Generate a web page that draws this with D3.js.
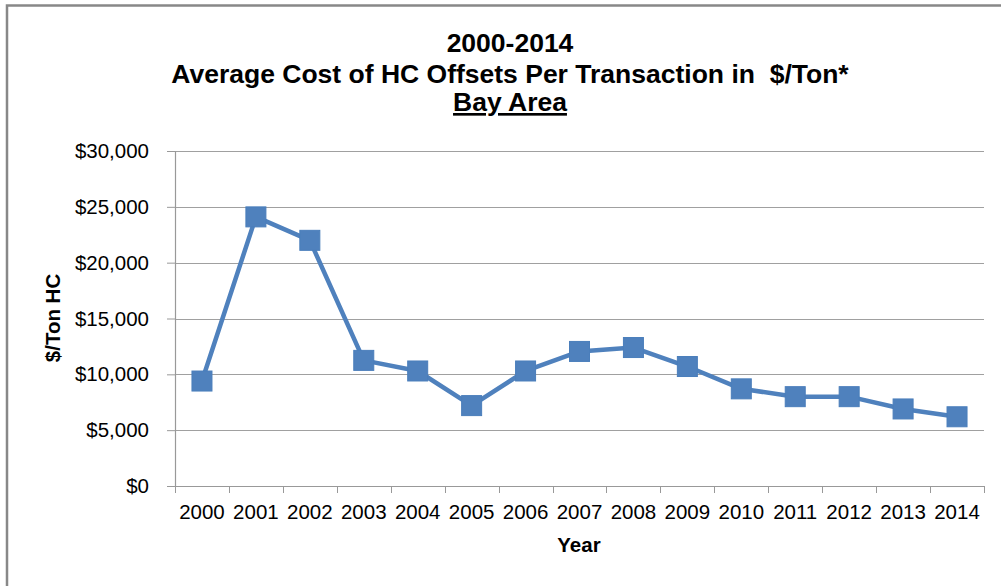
<!DOCTYPE html>
<html lang="en">

<head>
  <title>HC Offsets Bay Area</title>
  <script src="https://cdn.jsdelivr.net/npm/d3@7"></script>
  <style>
    body { margin: 0; background: #fff; }
    text { font-family: Arial, "Liberation Sans", sans-serif; fill: #000; }
  </style>
</head>

<body>
  <script>
    var years = ["2000", "2001", "2002", "2003", "2004", "2005", "2006", "2007",
                 "2008", "2009", "2010", "2011", "2012", "2013", "2014"];
    var costs = [9400, 24100, 22000, 11250, 10300, 7200, 10300, 12050,
                 12400, 10700, 8700, 8000, 8000, 6900, 6200];
    var yTicks = [0, 5000, 10000, 15000, 20000, 25000, 30000];
    var titleLines = ["2000-2014", "Average Cost of HC Offsets Per Transaction in \u00a0$/Ton*", "Bay Area"];

    var w = 1001;
    var h = 586;
    var margin = { top: 151, left: 175, right: 17, bottom: 100 };
    var width = w - margin.left - margin.right;
    var height = h - margin.top - margin.bottom;

    var svg = d3.select("body").append("svg")
                .attr("width", w)
                .attr("height", h);

    // outer frame, runs off the right/bottom edge
    svg.append("rect")
       .attr("x", 7).attr("y", 5.5)
       .attr("width", w + 20).attr("height", h + 20)
       .attr("fill", "none")
       .attr("stroke", "#888")
       .attr("stroke-width", 2.5);

    var title = svg.append("g");
    var baselines = [52, 82.5, 111];
    titleLines.forEach(function(t, i) {
      title.append("text")
           .attr("x", 510).attr("y", baselines[i])
           .attr("text-anchor", "middle")
           .style("font-size", "26.5px")
           .style("font-weight", "bold")
           .style("text-decoration", i == 2 ? "underline" : null)
           .text(t);
    });

    var chart = svg.append("g")
                   .attr("transform", "translate(" + margin.left + "," + margin.top + ")");

    var x = d3.scaleBand().domain(years).range([0, width]);
    var y = d3.scaleLinear().domain([0, 30000]).range([height, 0]);

    // gridlines
    chart.append("g")
         .selectAll("line")
         .data(yTicks.slice(1))
         .enter()
           .append("line")
           .attr("x1", 0).attr("x2", width)
           .attr("y1", function(d) { return Math.round(y(d)) + 0.5; })
           .attr("y2", function(d) { return Math.round(y(d)) + 0.5; })
           .attr("stroke", "#a0a0a0")
           .attr("stroke-width", 1.2);

    var yAxis = d3.axisLeft(y)
                  .tickValues(yTicks)
                  .tickSize(8)
                  .tickPadding(18)
                  .tickFormat(function(d) { return "$" + d3.format(",")(d); });
    var gy = chart.append("g").call(yAxis);
    gy.selectAll("text").style("font-size", "20.5px");

    var xAxis = d3.axisBottom(x)
                  .tickValues([])
                  .tickSize(0);
    var gx = chart.append("g")
                  .attr("transform", "translate(0," + height + ")")
                  .call(xAxis);
    // category boundary ticks
    gx.selectAll(".bound")
      .data(years.concat(["end"]))
      .enter()
        .append("line")
        .attr("x1", function(d, i) { return Math.round(i * x.step()) + 0.5; })
        .attr("x2", function(d, i) { return Math.round(i * x.step()) + 0.5; })
        .attr("y1", 0).attr("y2", 7)
        .attr("stroke", "#999");
    gx.selectAll(".lbl")
      .data(years)
      .enter()
        .append("text")
        .attr("x", function(d) { return x(d) + x.bandwidth() / 2; })
        .attr("y", 33)
        .attr("text-anchor", "middle")
        .style("font-size", "20.5px")
        .text(function(d) { return d; });

    svg.selectAll(".domain").attr("stroke", "#999").attr("stroke-width", 1.2);
    gy.selectAll(".tick line").attr("stroke", "#999");

    var line = d3.line()
                 .x(function(d, i) { return x(years[i]) + x.bandwidth() / 2; })
                 .y(function(d) { return y(d); });

    chart.append("path")
         .datum(costs)
         .attr("d", line)
         .attr("fill", "none")
         .attr("stroke", "#4f81bd")
         .attr("stroke-width", 4.5)
         .attr("stroke-linejoin", "round");

    var ms = 20;
    chart.selectAll(".point")
         .data(costs)
         .enter()
           .append("rect")
           .attr("x", function(d, i) { return x(years[i]) + x.bandwidth() / 2 - ms / 2; })
           .attr("y", function(d) { return y(d) - ms / 2; })
           .attr("width", ms).attr("height", ms)
           .attr("fill", "#4f81bd")
           .attr("stroke", "#4a7ebb")
           .attr("stroke-width", 1);

    svg.append("text")
       .attr("transform", "translate(60,318) rotate(-90)")
       .attr("text-anchor", "middle")
       .style("font-size", "20.5px")
       .style("font-weight", "bold")
       .text("$/Ton HC");

    svg.append("text")
       .attr("x", 579).attr("y", 552)
       .attr("text-anchor", "middle")
       .style("font-size", "20.5px")
       .style("font-weight", "bold")
       .text("Year");
  </script>
</body>

</html>
